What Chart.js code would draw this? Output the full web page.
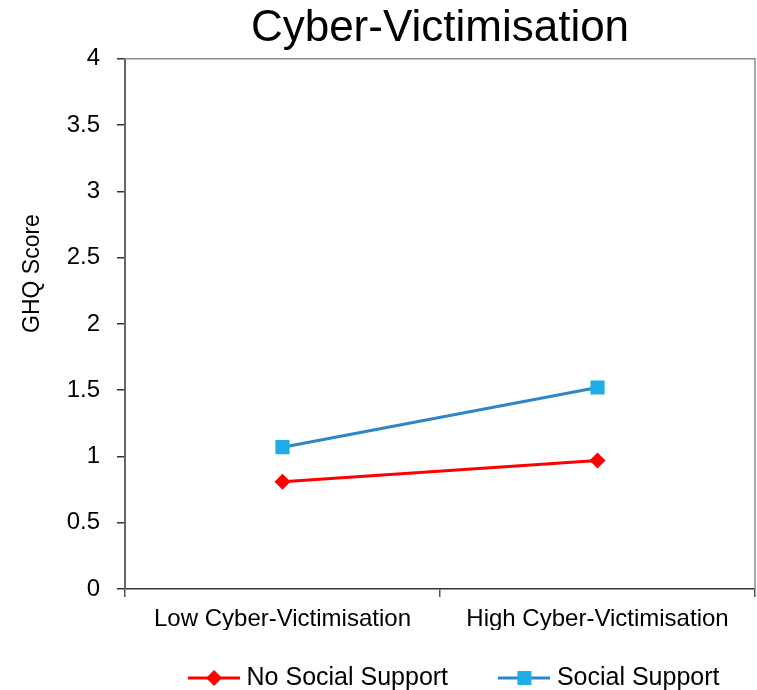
<!DOCTYPE html>
<html>
<head>
<meta charset="utf-8">
<script src="https://cdn.jsdelivr.net/npm/chart.js@4.4.1/dist/chart.umd.min.js"></script>
<style>
  html, body { margin: 0; padding: 0; background: #fff; }
</style>
</head>
<body>
<canvas id="chart" width="757" height="690"></canvas>
<script>
// ===== DATA =====
const categories = ['Low Cyber-Victimisation', 'High Cyber-Victimisation'];
const noSupport = [0.81, 0.97];
const socialSupport = [1.07, 1.52];
const yMin = 0, yMax = 4, yStep = 0.5;

const RED = '#ff0000';
const BLUE_LINE = '#2e86c8';
const BLUE_MARK = '#1eade4';
const FONT = "'Liberation Sans', Arial, sans-serif";

// icon legenda: garis + marker
function legendIcon(lineColor, markColor, shape) {
    const c = document.createElement('canvas');
    c.width = 52; c.height = 18;
    const ctx = c.getContext('2d');
    ctx.strokeStyle = lineColor;
    ctx.lineWidth = 3;
    ctx.beginPath();
    ctx.moveTo(0, 9); ctx.lineTo(52, 9);
    ctx.stroke();
    ctx.fillStyle = markColor;
    if (shape === 'diamond') {
        ctx.beginPath();
        ctx.moveTo(26, 1); ctx.lineTo(34, 9); ctx.lineTo(26, 17); ctx.lineTo(18, 9);
        ctx.closePath();
        ctx.fill();
    } else {
        ctx.fillRect(19, 2, 14, 14);
    }
    return c;
}
const icons = [legendIcon(RED, RED, 'diamond'), legendIcon(BLUE_LINE, BLUE_MARK, 'square')];

// kotak abu-abu atas & kanan
const frame = {
    id: 'frame',
    afterDraw(chart) {
        const { ctx, chartArea: a } = chart;
        ctx.save();
        ctx.strokeStyle = '#8c8c8c';
        ctx.lineWidth = 1.5;
        ctx.beginPath();
        ctx.moveTo(a.left, a.top); ctx.lineTo(a.right, a.top); ctx.lineTo(a.right, a.bottom);
        ctx.stroke();
        ctx.restore();
    }
};

// judul sumbu Y (agak di atas tengah, seperti aslinya)
const yTitle = {
    id: 'yTitle',
    afterDraw(chart) {
        const { ctx, chartArea: a } = chart;
        ctx.save();
        ctx.translate(33, a.top + (a.bottom - a.top) * 0.405);
        ctx.rotate(-Math.PI / 2);
        ctx.font = '23px ' + FONT;
        ctx.fillStyle = '#000';
        ctx.textAlign = 'center';
        ctx.textBaseline = 'middle';
        ctx.fillText('GHQ Score', 0, 0);
        ctx.restore();
    }
};

new Chart(document.getElementById('chart'), {
    type: 'line',
    data: {
        labels: categories,
        datasets: [{
            label: 'No Social Support',
            data: noSupport,
            borderColor: RED,
            backgroundColor: RED,
            borderWidth: 3,
            pointStyle: 'rectRot',
            pointRadius: 8,
            pointBorderWidth: 0,
            pointBackgroundColor: RED
        }, {
            label: 'Social Support',
            data: socialSupport,
            borderColor: BLUE_LINE,
            backgroundColor: BLUE_MARK,
            borderWidth: 3,
            pointStyle: 'rect',
            pointRadius: 10,
            pointBorderWidth: 0,
            pointBackgroundColor: BLUE_MARK
        }]
    },
    options: {
        responsive: false,
        animation: false,
        layout: { autoPadding: false, padding: { left: 0, right: 2, top: 0, bottom: 0 } },
        plugins: {
            title: {
                display: true,
                fullSize: false,
                text: 'Cyber-Victimisation',
                color: '#000',
                font: { family: FONT, size: 44, weight: 'normal', lineHeight: 1.2 },
                padding: { top: 2, bottom: 4 }
            },
            legend: {
                position: 'bottom',
                align: 'end',
                maxHeight: 60,
                labels: {
                    usePointStyle: true,
                    pointStyleWidth: 40,
                    padding: 35.5,
                    color: '#000',
                    font: { family: FONT, size: 25 },
                    generateLabels: chart => chart.data.datasets.map((ds, i) => ({
                        text: i === 0 ? ds.label + '   ' : ds.label,
                        pointStyle: icons[i],
                        fillStyle: ds.borderColor,
                        strokeStyle: ds.borderColor,
                        lineWidth: 0,
                        fontColor: '#000',
                        hidden: false,
                        datasetIndex: i
                    }))
                }
            },
            tooltip: { enabled: false }
        },
        scales: {
            x: {
                offset: true,
                afterFit: s => { s.height = 41; s.paddingLeft = 0; s.paddingRight = 0; },
                grid: { offset: true, drawOnChartArea: false, tickLength: 8, color: '#555', lineWidth: 1.5 },
                border: { color: '#333', width: 1.5 },
                ticks: { color: '#000', padding: 10, maxRotation: 0, font: { family: FONT, size: 24, lineHeight: 1 } }
            },
            y: {
                min: yMin,
                max: yMax,
                afterFit: s => { s.width = 125; },
                grid: { drawOnChartArea: false, tickLength: 8, color: '#333', lineWidth: 1.5 },
                border: { color: '#666', width: 2 },
                ticks: {
                    stepSize: yStep,
                    color: '#000',
                    padding: 17,
                    font: { family: FONT, size: 24 },
                    callback: v => String(v)
                }
            }
        }
    },
    plugins: [frame, yTitle]
});
</script>
</body>
</html>
